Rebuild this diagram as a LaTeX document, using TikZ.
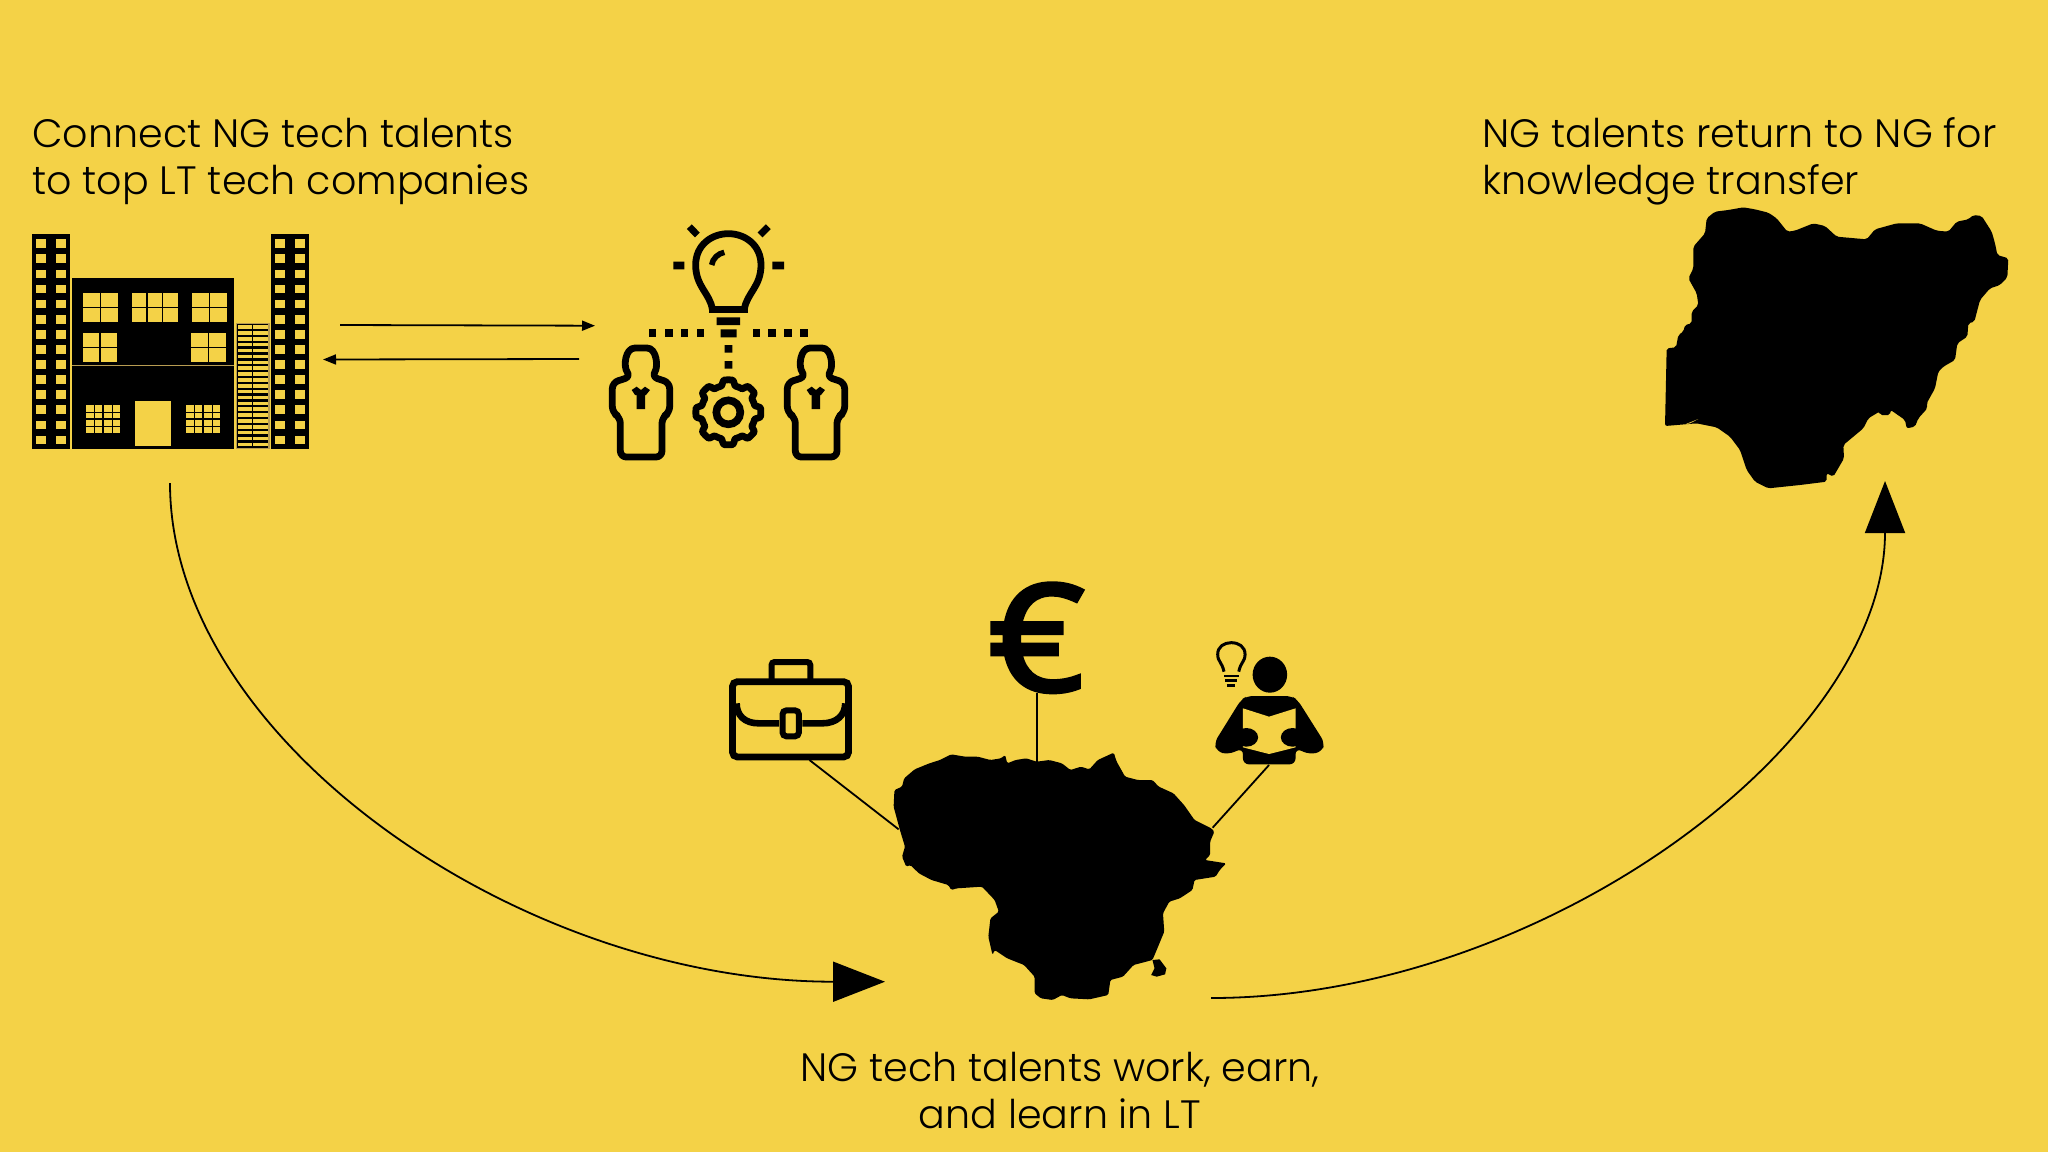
\documentclass[tikz,border=0pt]{standalone}
\usepackage{fontspec}
\setmainfont{Poppins Light}
\newfontfamily\euroface{Open Sans}[FakeBold=3]
\usetikzlibrary{arrows.meta}
\definecolor{bg}{HTML}{F4D247}
\definecolor{tan}{HTML}{B89C52}
\tikzset{
 thinline/.style={line width=0.9pt,black},
 caption/.style={anchor=base west,inner sep=0pt,font=\fontsize{19.8}{23.3}\selectfont,align=left,text=black},
 icon/.style={line width=3.4pt,black,line join=round},
 bigtip/.style={-{Triangle[length=26pt,width=20pt]}},
 smalltip/.style={-{Triangle[length=6.5pt,width=5pt]}}
}
\newcommand{\pane}[4]{\fill[bg] (#1,#2) rectangle (#3,#4);}
\begin{document}
\begin{tikzpicture}[x=0.5pt,y=-0.5pt]
\useasboundingbox (0,0) rectangle (2048,1152);
\fill[bg] (0,0) rectangle (2048,1152);

% captions
\node[caption] (capA) at (32,194.5) {Connect NG tech talents\\to top LT tech companies};
\node[caption] (capB) at (1482,194.5) {NG talents return to NG for\\knowledge transfer};
\node[anchor=base,inner sep=0pt,font=\fontsize{19.8}{23.3}\selectfont,align=center] (capC) at (1060,1128) {NG tech talents work, earn,\\and learn in LT};

% building (zoom 1 coordinates)
\begin{scope}[shift={(0,210)},scale=0.33333]
 \fill (96,72) rectangle (211,716);
 \fill (813,72) rectangle (928,716);
 \foreach \i in {0,...,13}{
  \pgfmathsetmacro\yy{88+45.3*\i}
  \pgfmathsetmacro\yb{\yy+26}
  \pane{108}{\yy}{137}{\yb}\pane{169}{\yy}{199}{\yb}
  \pane{825}{\yy}{855}{\yb}\pane{886}{\yy}{916}{\yb}
 }
 \fill (216,205) rectangle (703,716);
 \draw[tan,line width=0.7pt] (216,466) -- (703,466);
 % upper windows
 \pane{250}{250}{353}{336}\pane{395}{250}{534}{336}\pane{576}{250}{680}{336}
 \pane{249}{368}{352}{455}\pane{574}{368}{678}{455}
 \draw[line width=0.6pt] (250,293)--(353,293) (302,250)--(302,336)
   (395,293)--(534,293) (441,250)--(441,336) (488,250)--(488,336)
   (576,293)--(680,293) (628,250)--(628,336)
   (249,412)--(352,412) (300,368)--(300,455)
   (574,412)--(678,412) (626,368)--(626,455);
 % door
 \pane{404}{572}{513}{708}
 % lower windows
 \pane{259}{586}{359}{670}\pane{558}{586}{659}{670}
 \draw[line width=0.9pt] (309,586)--(309,670) (259,628)--(359,628) (609,586)--(609,670) (558,628)--(659,628);
 \draw[line width=0.45pt] (283,586)--(283,670) (336,586)--(336,670) (259,607)--(359,607) (259,650)--(359,650)
   (583,586)--(583,670) (636,586)--(636,670) (558,607)--(659,607) (558,650)--(659,650);
 % ladder block
 \fill[draw=tan,line width=0.6pt,fill=black] (709,340) rectangle (807,715);
 \foreach \i in {0,...,20}{
  \pgfmathsetmacro\yy{346+17.6*\i}
  \pgfmathsetmacro\yb{\yy+10.5}
  \pane{713}{\yy}{755}{\yb}\pane{760}{\yy}{804}{\yb}
 }
\end{scope}

% team / idea icon (zoom 2 coordinates)
\begin{scope}[shift={(590,210)},scale=0.33333]
 \draw[icon] (358,298) -- (473,298);
 \draw[icon] (367,298) .. controls (360,250) and (317,230) .. (317,165) .. controls (317,105) and (365,71) .. (415,71) .. controls (465,71) and (513,105) .. (513,165) .. controls (513,230) and (470,250) .. (463,298);
 \draw[line width=2.8pt] (365,165) .. controls (368,145) and (385,130) .. (403,127);
 \fill (250,155) rectangle (283,178) (547,155) rectangle (582,178);
 \draw[line width=3.4pt] (298,50)--(322,75) (535,50)--(510,75);
 \fill (380,322) rectangle (450,345) (392,358) rectangle (440,382);
 \foreach \a/\b in {178/198,225/248,272/295,320/343,488/510,535/558,583/605,630/653}{\fill (\a,358) rectangle (\b,382);}
 \fill (404,405) rectangle (427,428) (404,453) rectangle (427,476);
 \foreach \dx in {0,525}{
  \begin{scope}[shift={(\dx,0)}]
  \draw[icon,rounded corners=3pt] (122,500) .. controls (100,470) and (105,414) .. (153,414) .. controls (200,414) and (205,470) .. (185,500) -- (239,518) -- (239,608) -- (216,622) -- (216,741) -- (91,741) -- (91,622) -- (67,608) -- (67,518) -- cycle;
  \fill (125,540)--(140,530)--(153,540)--(165,530)--(180,540)--(168,555)--(165,555)--(165,597)--(140,597)--(140,555)--(135,555)--cycle;
  \end{scope}
 }
 \draw[icon] plot[domain=0:360,samples=193] ({415+(89.5+8*max(min(2.5*cos(8*\x),1),-1))*cos(\x)},{607+(89.5+8*max(min(2.5*cos(8*\x),1),-1))*sin(\x)}) -- cycle;
 \draw[line width=3.8pt] (415,607) circle (36);
\end{scope}

% thin arrows
\coordinate (buildingE) at (340,325);
\coordinate (teamW) at (595,325.7);
\coordinate (teamW2) at (579,359);
\coordinate (buildingE2) at (323,359.5);
\draw[thinline,smalltip] (buildingE) -- (teamW);
\draw[thinline,smalltip] (teamW2) -- (buildingE2);

% Lithuania etc (zoom 3 coordinates: 2.376x horizontally, 3x vertically)
\begin{scope}[shift={(700,560)},xscale=0.42088,yscale=0.33333]
 \fill[rounded corners=0.7pt] (462,690)--(480,680)--(485,655)--(510,628)--(545,610)--(570,600)--(597,583)--(630,590)--(660,590)--(690,600)--(715,595)--(725,585)--(730,610)--(750,600)--(775,595)--(800,605)--(830,600)--(860,610)--(880,630)--(905,620)--(925,628)--(945,600)--(983,578)--(990,605)--(1010,650)--(1040,660)--(1075,660)--(1090,680)--(1125,700)--(1150,735)--(1175,780)--(1215,805)--(1222,815)--(1212,845)--(1212,885)--(1200,900)--(1250,910)--(1235,930)--(1225,950)--(1175,960)--(1170,990)--(1140,1015)--(1115,1025)--(1100,1060)--(1103,1115)--(1085,1170)--(1075,1200)--(1030,1215)--(1005,1250)--(975,1260)--(970,1305)--(925,1318)--(880,1315)--(860,1305)--(838,1320)--(810,1315)--(795,1300)--(795,1250)--(770,1215)--(730,1195)--(700,1170)--(695,1185)--(685,1130)--(690,1075)--(710,1055)--(700,1020)--(670,980)--(610,985)--(597,990)--(590,975)--(550,960)--(520,940)--(500,915)--(490,920)--(480,890)--(487,860)--(475,810)--(460,740)--cycle;
 \fill (1075,1200)--(1092,1198)--(1108,1225)--(1105,1243)--(1085,1250)--(1072,1245)--(1080,1225)--cycle;
 % briefcase
 \draw[line width=3.4pt,rounded corners=2.5pt] (77,365) rectangle (353,591);
 \draw[line width=3pt,rounded corners=1.5pt] (170,358) -- (170,306) -- (262,306) -- (262,358);
 \draw[line width=3.3pt] (87,430) .. controls (87,465) and (105,490) .. (140,490) -- (188,490) (243,490) -- (290,490) .. controls (325,490) and (345,465) .. (345,430);
 \draw[line width=3pt,rounded corners=2pt] (196,451) rectangle (235,529);
 % euro
 \node[anchor=base,inner sep=0pt,xscale=1.12,font=\euroface\fontsize{74}{74}\selectfont] (euro) at (800,392) {€};
 % reader
 \fill (1354,344) ellipse (41 and 54);
 \fill[rounded corners=3pt] (1300,408)--(1405,408)--(1420,420)--(1484,548)--(1478,575)--(1448,583)--(1415,565)--(1415,613)--(1290,613)--(1290,565)--(1255,583)--(1228,575)--(1222,548)--(1285,420)--cycle;
 \fill[bg] (1290,445)--(1352,470)--(1415,445)--(1415,562)--(1352,582)--(1290,562)--cycle;
 \fill (1298,532) circle (28) (1408,532) circle (28);
 \draw[line width=1.5pt] (1245,335) .. controls (1240,305) and (1230,305) .. (1230,283) .. controls (1230,260) and (1245,248) .. (1262,248) .. controls (1280,248) and (1295,260) .. (1295,283) .. controls (1295,305) and (1285,305) .. (1280,335);
 \draw[line width=1.2pt] (1245,348)--(1280,348) (1248,362)--(1277,362) (1252,376)--(1272,376);
 \coordinate (caseS) at (260,600);
 \coordinate (ltW) at (472,808);
 \coordinate (ltN) at (801,605);
 \coordinate (euroS) at (801,398);
 \coordinate (readerS) at (1352,615);
 \coordinate (ltE) at (1218,803);
\end{scope}
\draw[thinline] (caseS) -- (ltW);
\draw[thinline] (euroS) -- (ltN);
\draw[thinline] (readerS) -- (ltE);

% Nigeria (zoom 4 coordinates)
\begin{scope}[shift={(1640,190)},scale=0.33333]
 \fill[rounded corners=1pt] (200,85)--(225,65)--(265,60)--(310,52)--(345,58)--(385,68)--(410,85)--(442,125)--(465,122)--(520,100)--(555,108)--(590,140)--(680,148)--(705,118)--(770,100)--(840,100)--(890,122)--(925,125)--(950,95)--(985,88)--(1000,75)--(1025,78)--(1055,125)--(1065,160)--(1072,195)--(1105,205)--(1102,262)--(1080,285)--(1050,295)--(1020,330)--(1003,395)--(985,400)--(982,440)--(952,460)--(945,510)--(910,530)--(895,545)--(885,595)--(860,640)--(862,655)--(835,685)--(825,710)--(800,715)--(795,690)--(752,660)--(750,675)--(720,675)--(718,665)--(685,685)--(670,715)--(610,765)--(612,805)--(580,860)--(560,850)--(560,875)--(480,885)--(385,895)--(345,875)--(320,840)--(300,780)--(270,740)--(230,712)--(170,700)--(75,708)--(80,475)--(108,472)--(115,435)--(130,425)--(135,405)--(155,400)--(155,365)--(175,345)--(170,310)--(145,265)--(160,235)--(160,170)--(195,130)--cycle;
 \fill[bg] (135,703)--(175,687)--(150,700)--cycle;
\end{scope}

% big curves
\coordinate (buildingS) at (170,483);
\coordinate (ltIn) at (885,981.7);
\coordinate (ltOut) at (1211,998);
\coordinate (ngS) at (1885,481);
\draw[thinline,bigtip] (buildingS) .. controls (170,740) and (520,981.7) .. (ltIn);
\draw[thinline,bigtip] (ltOut) .. controls (1540,998) and (1885,745) .. (ngS);
\end{tikzpicture}
\end{document}
